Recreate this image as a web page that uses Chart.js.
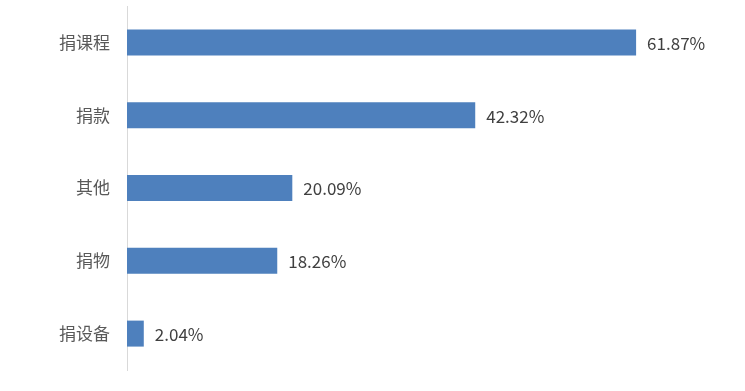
<!DOCTYPE html>
<html><head><meta charset="utf-8">
<script src="https://cdn.jsdelivr.net/npm/chart.js@4/dist/chart.umd.min.js"></script>
<style>html,body{margin:0;padding:0;background:#fff;overflow:hidden}canvas{display:block}</style>
</head><body><canvas id="c" width="745" height="391"></canvas>
<script>
const categories = ["捐课程", "捐款", "其他", "捐物", "捐设备"];
const values = [61.87, 42.32, 20.09, 18.26, 2.04];
const valueLabels = ["61.87%", "42.32%", "20.09%", "18.26%", "2.04%"];

const labelPlugin = {
  id: 'valLabels',
  afterDatasetsDraw(chart) {
    const ctx = chart.ctx;
    const meta = chart.getDatasetMeta(0);
    ctx.save();
    ctx.font = '17px "Noto Sans CJK SC", "Noto Sans", sans-serif';
    ctx.fillStyle = '#404040';
    ctx.textAlign = 'left';
    ctx.textBaseline = 'middle';
    meta.data.forEach((bar, i) => {
      ctx.fillText(valueLabels[i], bar.x + 11, bar.y + 1);
    });
    ctx.restore();
  }
};

new Chart(document.getElementById('c'), {
  type: 'bar',
  data: {
    labels: categories,
    datasets: [{
      data: values,
      backgroundColor: '#4e80bd',
      borderWidth: 0,
      categoryPercentage: 1,
      barPercentage: 0.357
    }]
  },
  options: {
    indexAxis: 'y',
    responsive: false,
    animation: false,
    layout: { padding: { top: 6, bottom: 21, left: 0, right: 42 } },
    plugins: { legend: { display: false }, tooltip: { enabled: false } },
    scales: {
      x: { display: false, min: 0, max: 70 },
      y: {
        afterFit(scale) {
          scale.width = 127;
          scale.paddingTop = 0;
          scale.paddingBottom = 0;
        },
        grid: { display: false, drawTicks: false },
        border: { display: true, color: '#d9d9d9', width: 1 },
        ticks: {
          padding: 17,
          color: '#595959',
          font: { size: 17, family: '"Noto Sans CJK SC", sans-serif' }
        }
      }
    }
  },
  plugins: [labelPlugin]
});
</script></body></html>
